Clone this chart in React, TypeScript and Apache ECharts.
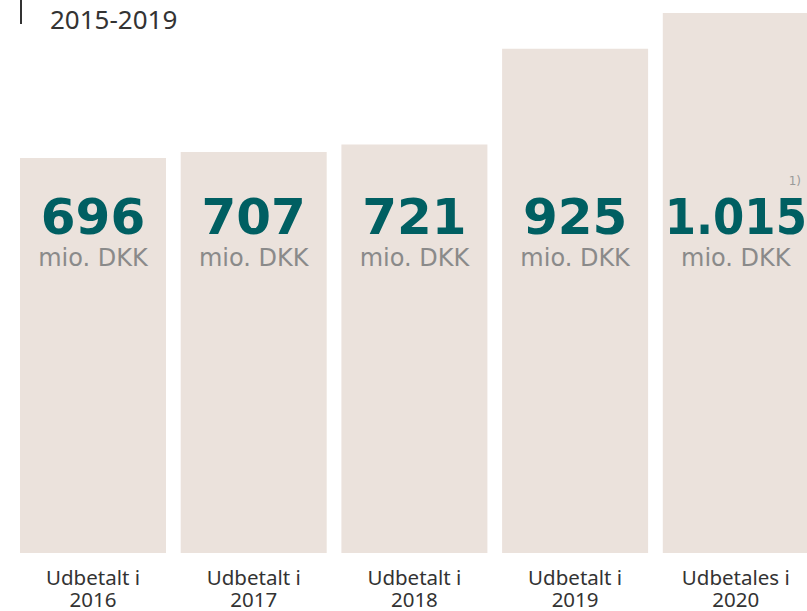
import React, { useEffect, useRef } from "react";
import * as echarts from "echarts";

const categories = ["Udbetalt i\n2016", "Udbetalt i\n2017", "Udbetalt i\n2018", "Udbetalt i\n2019", "Udbetales i\n2020"];
const values = [696, 707, 721, 925, 1015];
const unitLabel = "mio. DKK";
const titleText = "2015-2019";
const noteText = "1)";

const fmt = (v: number) => {
  const s = String(v);
  return s.length > 3 ? s.slice(0, s.length - 3) + "." + s.slice(s.length - 3) : s;
};

export default function App() {
  const ref = useRef<HTMLDivElement>(null);
  useEffect(() => {
    if (!ref.current) return;
    const chart = echarts.init(ref.current, null, { renderer: "svg" });
    chart.setOption({
      animation: false,
      backgroundColor: "#ffffff",
      grid: { left: 12.65, right: 3.85, top: 13, bottom: 58, containLabel: false },
      xAxis: [
        {
          type: "category",
          data: categories,
          position: "bottom",
          axisLine: { show: false },
          axisTick: { show: false },
          axisLabel: {
            margin: 13,
            color: "#333333",
            fontFamily: "Noto Sans",
            fontSize: 20.5,
            lineHeight: 22,
          },
        },
        {
          type: "category",
          data: categories,
          position: "top",
          z: 10,
          axisLine: { show: false },
          axisTick: { show: false },
          axisLabel: {
            margin: -261,
            verticalAlign: "bottom",
            formatter: (_: string, idx: number) => {
              const v = values[idx];
              const key = v >= 1000 ? "vl" : "v";
              return `{${key}|${fmt(v)}}\n{u|${unitLabel}}`;
            },
            rich: {
              v: {
                fontFamily: "DejaVu Sans",
                fontWeight: "bold",
                fontSize: 50,
                lineHeight: 50,
                color: "#005f62",
                align: "center",
              },
              vl: {
                fontFamily: "DejaVu Sans Condensed",
                fontWeight: "bold",
                fontSize: 50,
                lineHeight: 50,
                color: "#005f62",
                align: "center",
              },
              u: {
                fontFamily: "DejaVu Sans",
                fontSize: 24,
                lineHeight: 32,
                color: "#8a8a8a",
                align: "center",
              },
            },
          },
        },
      ],
      yAxis: {
        type: "log",
        logBase: 10,
        min: 249,
        max: 1015,
        show: false,
        splitLine: { show: false },
      },
      series: [
        {
          type: "bar",
          data: values,
          barWidth: 146,
          clip: true,
          z: 1,
          itemStyle: { color: "#ebe2dc" },
          xAxisIndex: 0,
        },
      ],
      graphic: [
        {
          type: "line",
          shape: { x1: 21, y1: 0, x2: 21, y2: 24 },
          style: { stroke: "#333333", lineWidth: 2 },
        },
        {
          type: "text",
          x: 50,
          y: 19,
          style: {
            text: titleText,
            fill: "#333333",
            fontFamily: "Noto Sans",
            fontSize: 26,
            verticalAlign: "middle",
            align: "left",
          },
        },
        {
          type: "text",
          x: 801,
          y: 181,
          z: 10,
          style: {
            text: noteText,
            fill: "#9a9a9a",
            fontFamily: "DejaVu Sans",
            fontSize: 12,
            verticalAlign: "middle",
            align: "right",
          },
        },
      ],
    });
    return () => chart.dispose();
  }, []);
  return (
    <div style={{ position: "fixed", left: 0, top: 0, width: 807, height: 611, overflow: "hidden", background: "#fff" }}>
      <div ref={ref} style={{ width: 820, height: 611 }} />
    </div>
  );
}
